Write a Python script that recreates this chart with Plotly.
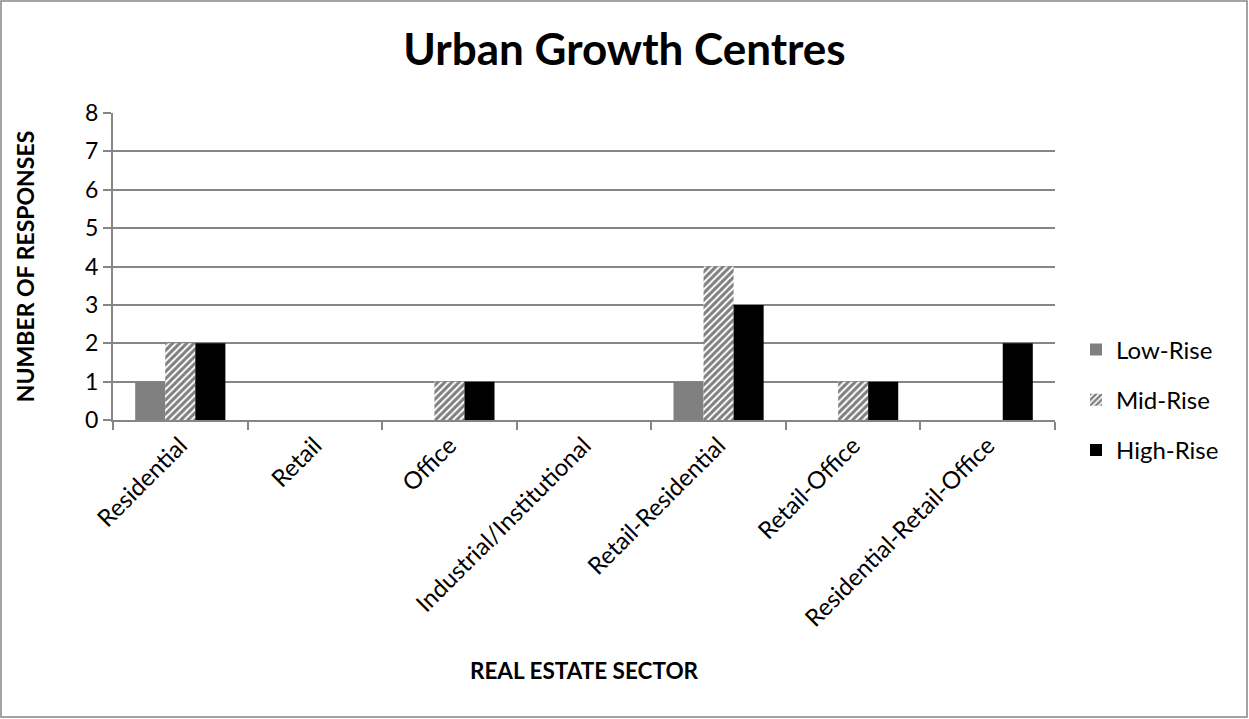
import plotly.graph_objects as go

categories = ["Residential", "Retail", "Office", "Industrial/Institutional",
              "Retail-Residential", "Retail-Office", "Residential-Retail-Office"]
low_rise = [1, 0, 0, 0, 1, 0, 0]
mid_rise = [2, 0, 1, 0, 4, 1, 0]
high_rise = [2, 0, 1, 0, 3, 1, 2]
y_ticks = [0, 1, 2, 3, 4, 5, 6, 7, 8]

FONT = "Lato"
GRID = "#868686"

fig = go.Figure()
fig.add_trace(go.Bar(name="Low-Rise", x=categories, y=low_rise,
                     marker=dict(color="#808080", line=dict(width=0)),
                     legendgroup="a"))
fig.add_trace(go.Bar(name="Mid-Rise", x=categories, y=mid_rise,
                     marker=dict(color="white", line=dict(width=0),
                                 pattern=dict(shape="/", fgcolor="black", bgcolor="white",
                                              size=5, solidity=0.6)),
                     legendgroup="b"))
fig.add_trace(go.Bar(name="High-Rise", x=categories, y=high_rise,
                     marker=dict(color="black", line=dict(width=0)),
                     legendgroup="c"))

# plot area in pixels: left 113, right 1055, top 113, bottom 420
W, H = 1249, 719
L, R, T, B = 113, 1055, 113, 420
pw, ph = R - L, B - T


def px_x(x):
    return (x - L) / pw


def px_y(y):
    return (B - y) / ph


fig.update_layout(
    width=W, height=H,
    margin=dict(l=L, r=W - R, t=T, b=H - B, autoexpand=False),
    paper_bgcolor="white", plot_bgcolor="white",
    font=dict(family=FONT, color="black", size=23),
    barmode="group", bargap=0.33, bargroupgap=0,
    title=dict(text="<b>Urban Growth Centres</b>", x=0.5, xanchor="center",
               y=1 - 50 / H, yanchor="middle", font=dict(size=44, family=FONT)),
    xaxis=dict(
        type="category", tickangle=-45, tickson="boundaries",
        ticks="outside", ticklen=8, tickcolor=GRID, tickwidth=2,
        showline=True, linecolor=GRID, linewidth=2, showgrid=False,
        tickfont=dict(size=24),
        title=dict(text="<b>REAL ESTATE SECTOR</b>", font=dict(size=22.5), standoff=33),
    ),
    yaxis=dict(
        range=[0, 8], tickvals=y_ticks, ticks="outside", ticklen=8,
        tickcolor=GRID, tickwidth=2, showline=True, linecolor=GRID, linewidth=2,
        showgrid=True, gridcolor=GRID, gridwidth=2, zeroline=False,
        tickfont=dict(size=23),
        title=dict(text="<b>NUMBER OF RESPONSES</b>", font=dict(size=23), standoff=44),
    ),
    legend=dict(x=px_x(1076), xanchor="left", y=px_y(400), yanchor="middle",
                font=dict(size=24), tracegroupgap=16, itemwidth=30,
                bgcolor="rgba(0,0,0,0)"),
    shapes=[dict(type="rect", xref="paper", yref="paper",
                 x0=px_x(1), x1=px_x(1247), y0=px_y(717), y1=px_y(1),
                 line=dict(color=GRID, width=1.5), layer="below")],
)

fig.write_html("out.html")
